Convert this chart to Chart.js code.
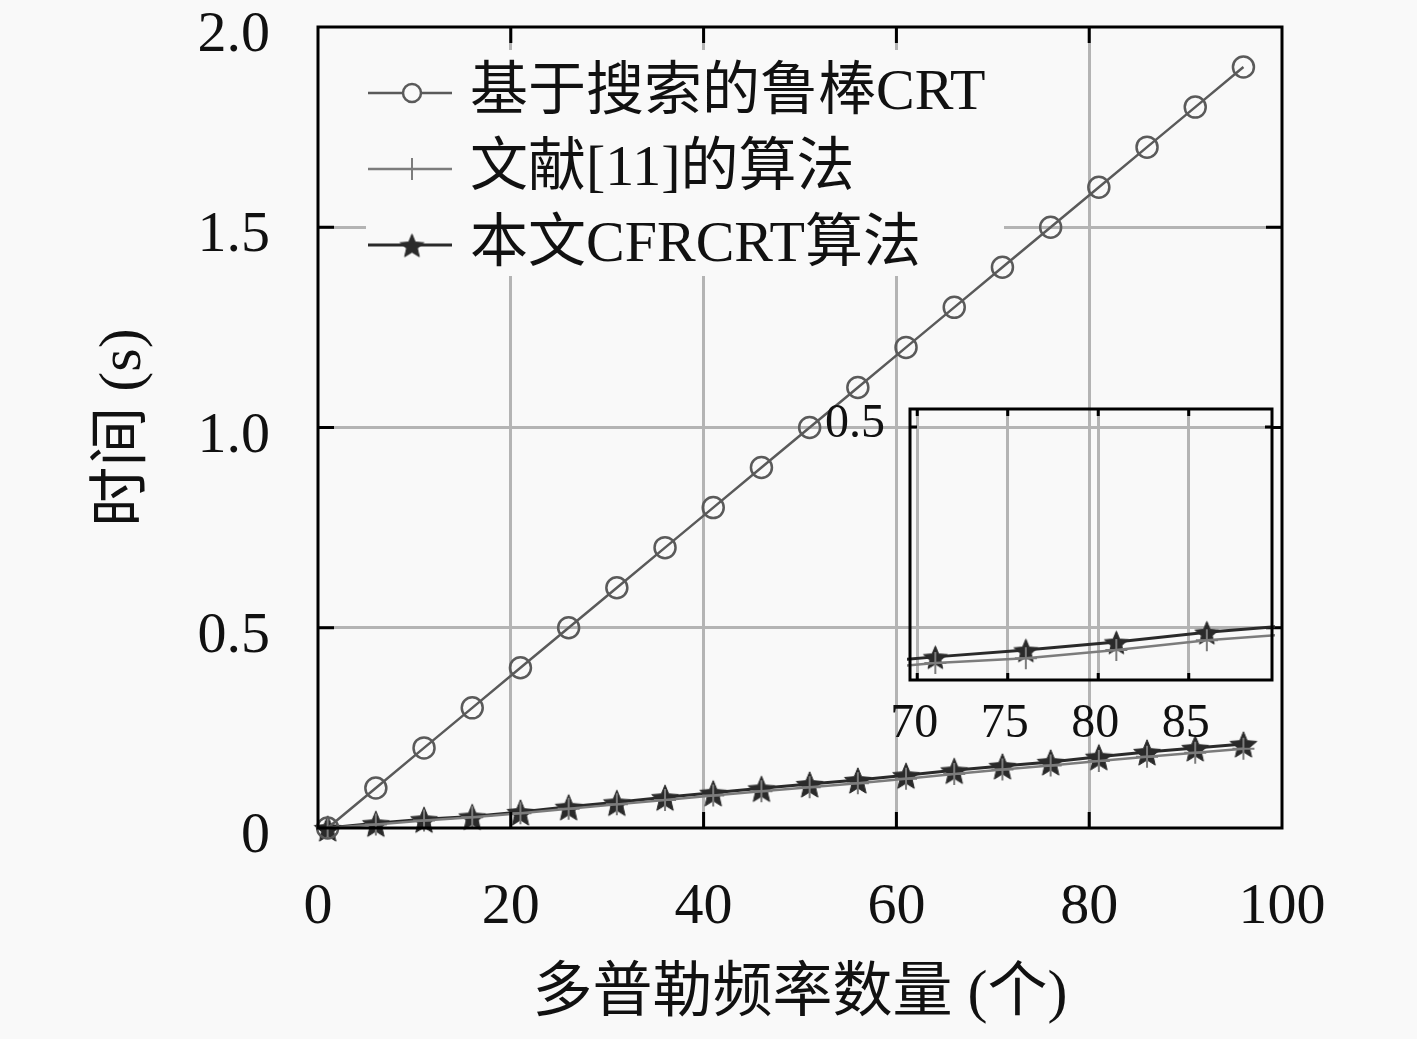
<!DOCTYPE html>
<html><head><meta charset="utf-8">
<script src="https://cdn.jsdelivr.net/npm/chart.js@4.4.0/dist/chart.umd.min.js"></script>
<style>
html,body{margin:0;padding:0;background:#f9f9f9;}
#wrap{position:relative;width:1417px;height:1039px;overflow:hidden;}
#main{position:absolute;left:0;top:0;}
#inset{position:absolute;left:800px;top:380px;}
</style></head><body>
<div id="wrap"><canvas id="main" width="1417" height="1039"></canvas><canvas id="inset" width="500" height="380"></canvas></div>
<script>
// ---- data ----
const xValues = [1, 6, 11, 16, 21, 26, 31, 36, 41, 46, 51, 56, 61, 66, 71, 76, 81, 86, 91, 96];
const searchCRT = [0, 0.1, 0.2, 0.3, 0.4, 0.5, 0.6, 0.7, 0.8, 0.9, 1.0, 1.1, 1.2, 1.3, 1.4, 1.5, 1.6, 1.7, 1.8, 1.9];
const ref11 = [0, 0.009, 0.019, 0.027, 0.037, 0.048, 0.059, 0.07, 0.081, 0.092, 0.102, 0.112, 0.123, 0.135, 0.146, 0.156, 0.167, 0.178, 0.188, 0.198];
const cfrcrt = [0, 0.012, 0.022, 0.029, 0.04, 0.053, 0.064, 0.077, 0.088, 0.099, 0.11, 0.12, 0.132, 0.144, 0.155, 0.165, 0.178, 0.19, 0.2, 0.21];
const seriesNames = ['基于搜索的鲁棒CRT', '文献[11]的算法', '本文CFRCRT算法'];
const xTickLabels = ['0', '20', '40', '60', '80', '100'];
const yTickLabels = ['0', '0.5', '1.0', '1.5', '2.0'];
const xTitle = '多普勒频率数量 (个)';
const yTitle = '时间 (s)';
// inset (zoomed region)
const insetX = [66, 71, 76, 81, 86, 91];
const insetRef11 = [0.163, 0.1735, 0.18, 0.1915, 0.205, 0.214];
const insetCfrcrt = [0.172, 0.182, 0.1915, 0.2025, 0.216, 0.226];
const insetXTickLabels = ['70', '75', '80', '85'];
const insetYTickLabels = ['0.5'];

// ---- styles ----
const FAM = '"Liberation Serif", "Noto Sans CJK SC", serif';
const BG = '#f9f9f9';
const GRID = '#b4b4b4';
const C_CIRCLE = '#5a5a5a';
const C_CROSS = '#7c7c7c';
const C_STAR = '#2a2a2a';

function makeStar(size, color) {
  const c = document.createElement('canvas');
  c.width = size; c.height = size;
  const g = c.getContext('2d');
  const cx = size / 2, cy = size / 2 + size * 0.06, R = size / 2 - 1, r = R * 0.45;
  g.beginPath();
  for (let i = 0; i < 10; i++) {
    const a = -Math.PI / 2 + i * Math.PI / 5;
    const rad = i % 2 ? r : R;
    g.lineTo(cx + rad * Math.cos(a), cy + rad * Math.sin(a));
  }
  g.closePath();
  g.fillStyle = color; g.fill();
  g.lineWidth = 1; g.strokeStyle = color; g.stroke();
  return c;
}
const starBig = makeStar(30, C_STAR);
const starSmall = makeStar(27, C_STAR);

function pts(xs, ys) { return xs.map((x, i) => ({x: x, y: ys[i]})); }

function framePlugin(tickLen, lw) {
  return {
    id: 'frame',
    afterDatasetsDraw(chart) {
      const {ctx, chartArea: a, scales} = chart;
      ctx.save();
      ctx.strokeStyle = '#000';
      ctx.lineWidth = lw;
      ctx.beginPath();
      scales.x.ticks.forEach(t => {
        const px = scales.x.getPixelForValue(t.value);
        if (px <= a.left + 1 || px >= a.right - 1) return;
        ctx.moveTo(px, a.bottom); ctx.lineTo(px, a.bottom - tickLen);
        ctx.moveTo(px, a.top); ctx.lineTo(px, a.top + tickLen);
      });
      scales.y.ticks.forEach(t => {
        const py = scales.y.getPixelForValue(t.value);
        if (py <= a.top + 1 || py >= a.bottom - 1) return;
        ctx.moveTo(a.left, py); ctx.lineTo(a.left + tickLen, py);
        ctx.moveTo(a.right, py); ctx.lineTo(a.right - tickLen, py);
      });
      ctx.stroke();
      ctx.strokeRect(a.left, a.top, a.right - a.left, a.bottom - a.top);
      ctx.restore();
    }
  };
}

const legendPlugin = {
  id: 'customLegend',
  beforeDatasetsDraw(chart) {
    const {ctx} = chart;
    ctx.save();
    ctx.fillStyle = BG;
    ctx.fillRect(366, 50, 638, 226);
    ctx.restore();
  },
  afterDraw(chart) {
    const {ctx} = chart;
    ctx.save();
    const rows = [93, 169, 245];
    const x0 = 368, x1 = 452, xm = 412;
    chart.data.datasets.forEach((ds, i) => {
      const y = rows[i];
      ctx.strokeStyle = ds.borderColor;
      ctx.lineWidth = ds.borderWidth;
      ctx.beginPath(); ctx.moveTo(x0, y); ctx.lineTo(x1, y); ctx.stroke();
      if (i === 0) {
        ctx.fillStyle = BG;
        ctx.lineWidth = 2.5;
        ctx.beginPath(); ctx.arc(xm, y, 9, 0, Math.PI * 2); ctx.fill(); ctx.stroke();
      } else if (i === 1) {
        ctx.lineWidth = 2;
        ctx.beginPath(); ctx.moveTo(xm, y - 11); ctx.lineTo(xm, y + 11); ctx.stroke();
      } else {
        ctx.drawImage(starSmall, xm - 13.5, y - 13.5);
      }
      ctx.fillStyle = '#111';
      ctx.font = '58px ' + FAM;
      ctx.textBaseline = 'middle';
      ctx.textAlign = 'left';
      ctx.fillText(ds.label, 470, y + 1);
    });
    ctx.restore();
  }
};

Chart.defaults.font.family = FAM;
Chart.defaults.color = '#111';

new Chart(document.getElementById('main'), {
  type: 'line',
  data: {
    datasets: [
      {label: seriesNames[0], data: pts(xValues, searchCRT), borderColor: C_CIRCLE, borderWidth: 2.5,
        pointStyle: 'circle', pointRadius: 10.5, pointBorderWidth: 2.5, pointBorderColor: C_CIRCLE,
        pointBackgroundColor: 'rgba(0,0,0,0)', clip: false},
      {label: seriesNames[1], data: pts(xValues, ref11), borderColor: C_CROSS, borderWidth: 2.5,
        pointStyle: 'cross', pointRadius: 11, pointBorderWidth: 2, pointBorderColor: C_CROSS, clip: false},
      {label: seriesNames[2], data: pts(xValues, cfrcrt), borderColor: C_STAR, borderWidth: 3,
        pointStyle: starBig, pointRadius: 15, clip: false}
    ]
  },
  options: {
    responsive: false, devicePixelRatio: 1, animation: false,
    layout: {padding: {top: 27, right: 135, left: 0, bottom: 0}},
    plugins: {legend: {display: false}, tooltip: {enabled: false}},
    elements: {line: {tension: 0, fill: false}},
    scales: {
      x: {
        type: 'linear', min: 0, max: 100,
        afterBuildTicks: s => { s.ticks = xTickLabels.map(v => ({value: +v})); },
        afterFit: s => { s.height = 211; s.paddingLeft = 0; s.paddingRight = 0; },
        ticks: {autoSkip: false, maxRotation: 0, padding: 45, font: {size: 58, family: FAM}, color: '#111',
          callback: (v, i) => xTickLabels[i]},
        grid: {drawTicks: false, lineWidth: 3,
          color: c => (c.tick && (c.tick.value === 0 || c.tick.value === 100)) ? 'rgba(0,0,0,0)' : GRID},
        border: {display: false},
        title: {display: true, text: xTitle, font: {size: 60, family: FAM}, color: '#111', padding: {top: 0, bottom: 8}}
      },
      y: {
        type: 'linear', min: 0, max: 2,
        afterBuildTicks: s => { s.ticks = yTickLabels.map(v => ({value: +v})); },
        afterFit: s => { s.width = 318; s.paddingTop = 0; s.paddingBottom = 0; },
        ticks: {autoSkip: false, padding: 48, labelOffset: 9, font: {size: 58, family: FAM}, color: '#111',
          callback: (v, i) => yTickLabels[i]},
        grid: {drawTicks: false, lineWidth: 3,
          color: c => (c.tick && (c.tick.value === 0 || c.tick.value === 2)) ? 'rgba(0,0,0,0)' : GRID},
        border: {display: false},
        title: {display: true, text: yTitle, font: {size: 60, family: FAM}, color: '#111', padding: {top: 88, bottom: 0}}
      }
    }
  },
  plugins: [framePlugin(16, 3), legendPlugin]
});

new Chart(document.getElementById('inset'), {
  type: 'line',
  data: {
    datasets: [
      {label: seriesNames[1], data: pts(insetX, insetRef11), borderColor: C_CROSS, borderWidth: 2.5,
        pointStyle: 'cross', pointRadius: 11, pointBorderWidth: 2, pointBorderColor: C_CROSS, clip: 3},
      {label: seriesNames[2], data: pts(insetX, insetCfrcrt), borderColor: C_STAR, borderWidth: 3,
        pointStyle: starSmall, pointRadius: 14, clip: 3}
    ]
  },
  options: {
    responsive: false, devicePixelRatio: 1, animation: false,
    layout: {padding: {top: 29, right: 28, left: 0, bottom: 0}},
    plugins: {legend: {display: false}, tooltip: {enabled: false}},
    elements: {line: {tension: 0, fill: false}},
    scales: {
      x: {
        type: 'linear', min: 69.6, max: 89.6,
        afterBuildTicks: s => { s.ticks = insetXTickLabels.map(v => ({value: +v})); },
        afterFit: s => { s.height = 80; s.paddingLeft = 0; s.paddingRight = 0; },
        ticks: {autoSkip: false, maxRotation: 0, padding: 16, labelOffset: -3, font: {size: 48, family: FAM}, color: '#111',
          callback: (v, i) => insetXTickLabels[i]},
        grid: {drawTicks: false, lineWidth: 3, color: GRID},
        border: {display: false}
      },
      y: {
        type: 'linear', min: 0.15, max: 0.525,
        afterBuildTicks: s => { s.ticks = insetYTickLabels.map(v => ({value: +v})); },
        afterFit: s => { s.width = 110; s.paddingTop = 0; s.paddingBottom = 0; },
        ticks: {autoSkip: false, padding: 25, labelOffset: -3, font: {size: 48, family: FAM}, color: '#111',
          callback: (v, i) => insetYTickLabels[i]},
        grid: {drawTicks: false, lineWidth: 3, color: GRID},
        border: {display: false}
      }
    }
  },
  plugins: [framePlugin(7, 3)]
});
</script>
</body></html>
